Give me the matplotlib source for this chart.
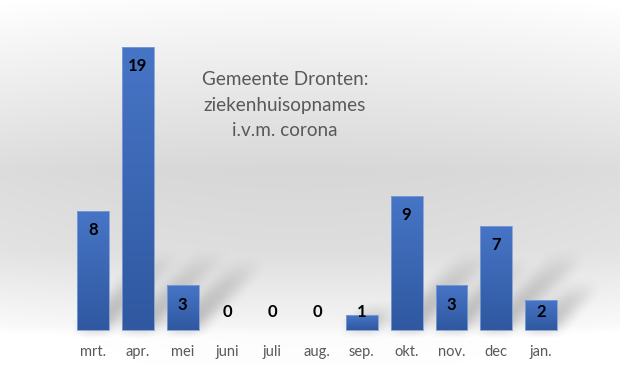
import numpy as np
import matplotlib.pyplot as plt
from matplotlib.colors import LinearSegmentedColormap

# --- Data ---
months = ['mrt.', 'apr.', 'mei', 'juni', 'juli', 'aug.', 'sep.', 'okt.', 'nov.', 'dec', 'jan.']
admissions = [8, 19, 3, 0, 0, 0, 1, 9, 3, 7, 2]
title = 'Gemeente Dronten:\nziekenhuisopnames\ni.v.m. corona'

BAR_W = 0.71
TEXT_GREY = '#595959'
FONT = 'Lato'

W, H = 620, 365
fig = plt.figure(figsize=(W / 100, H / 100), dpi=100)
ax = fig.add_axes([0, 0, 1, 1])
x0, x1 = -2.076, 11.763
y0, y1 = -2.35, 22.15
ax.set_xlim(x0, x1)
ax.set_ylim(y0, y1)
ax.axis('off')

# --- Background: light top, grey middle, fading to a white floor ---
py = np.arange(H)[:, None]
px = np.arange(W)[None, :]
shade = np.interp(py, [0, 40, 170, 250, 325, 335, 365],
                  [0.985, 0.95, 0.845, 0.87, 0.96, 0.99, 0.995])
shade = shade + 0.02 * ((px - 300) / 310.0) ** 2
shade = np.clip(shade, 0, 1)
ax.imshow(np.dstack([shade] * 3), extent=[x0, x1, y0, y1], origin='upper',
          aspect='auto', zorder=0, interpolation='bilinear')

# --- Soft shadows cast up and to the right ---
X = np.linspace(x0, x1, W)[None, :]
Y = np.linspace(y1, y0, H)[:, None]
shadow = np.zeros((H, W))
for i, v in enumerate(admissions):
    if v == 0:
        continue
    hs = min(v * 1.5, 5.0)
    xs = X - 0.33 * np.clip(Y, 0, None)
    inside = (Y >= 0) & (Y <= hs) & (xs >= i - BAR_W / 2) & (xs <= i + BAR_W / 2)
    fade = np.clip(1 - np.clip(Y, 0, None) / hs, 0, 1) ** 0.6
    shadow = np.maximum(shadow, inside * fade)
k = 9
for axis in (0, 1):
    c = np.cumsum(np.pad(shadow, [(k, k) if a == axis else (0, 0) for a in (0, 1)],
                         mode='edge'), axis=axis)
    if axis == 0:
        shadow = (c[2 * k:, :] - c[:-2 * k, :]) / (2 * k)
    else:
        shadow = (c[:, 2 * k:] - c[:, :-2 * k]) / (2 * k)
rgba = np.zeros((shadow.shape[0], shadow.shape[1], 4))
rgba[..., 3] = 0.25 * shadow
ax.imshow(rgba, extent=[x0, x1, y0, y1], origin='upper', aspect='auto',
          zorder=1, interpolation='bilinear')

# --- Bars with vertical gradient ---
bar_cmap = LinearSegmentedColormap.from_list('bar', ['#2f58a0', '#4775c6'])
grad = np.linspace(0, 1, 100)[:, None]
heights = np.array(admissions)
bars = ax.bar(range(len(admissions)), admissions, width=BAR_W, color='none',
              edgecolor=['#7f9fd8' if v > 0 else 'none' for v in heights],
              linewidth=0.6, zorder=3)
for b in bars:
    if b.get_height() <= 0:
        continue
    im = ax.imshow(grad, cmap=bar_cmap, origin='lower', aspect='auto',
                   extent=[b.get_x(), b.get_x() + b.get_width(), 0, b.get_height()],
                   zorder=2)
    im.set_clip_path(b)
ax.set_xlim(x0, x1)
ax.set_ylim(y0, y1)

# --- Value labels ---
for i, v in enumerate(admissions):
    ly = max(v - 1.3, 1.2)
    ax.text(i, ly, str(v), ha='center', va='center', fontsize=12,
            fontweight='bold', color='black', family=FONT, zorder=4)

# --- Category labels ---
for i, m in enumerate(months):
    ax.text(i, -1.48, m, ha='center', va='center', fontsize=10.5,
            color=TEXT_GREY, family=FONT, zorder=4)

# --- Title ---
ax.text(4.28, 15.1, title, ha='center', va='center', fontsize=13.6,
        color=TEXT_GREY, family=FONT, linespacing=1.62, zorder=4)

fig.savefig('out.png', dpi=100)
